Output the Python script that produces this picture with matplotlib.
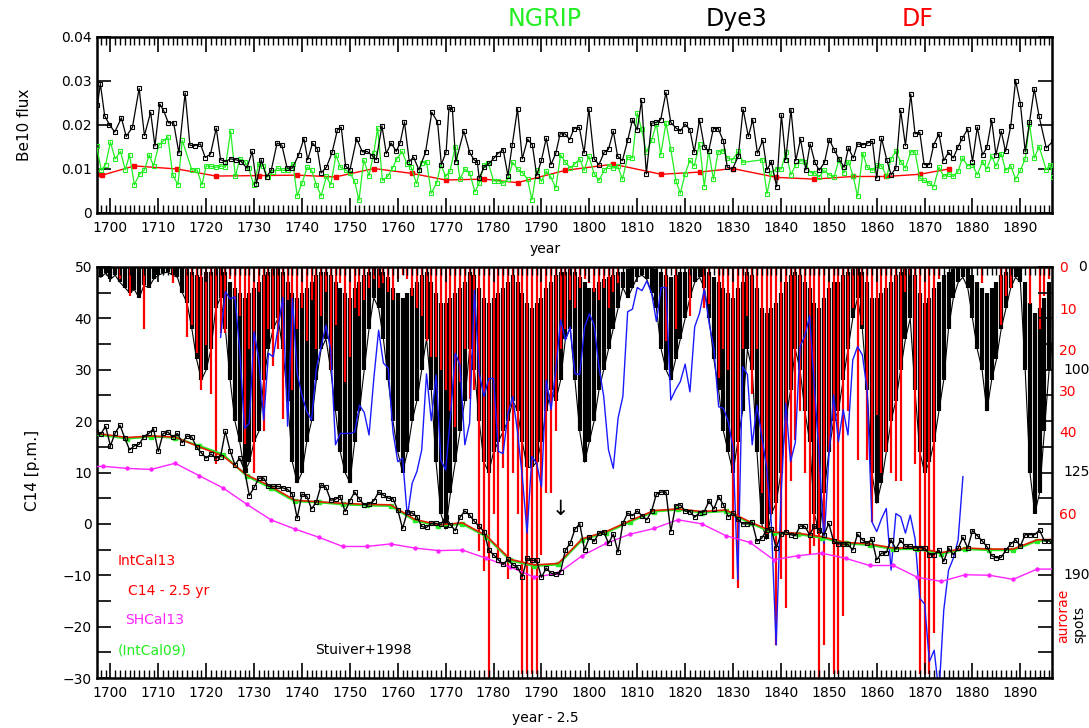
import matplotlib
matplotlib.use("Agg")
import matplotlib.pyplot as plt
import numpy as np
from matplotlib.ticker import FixedLocator, MultipleLocator

# ---- Be10 flux -------------------------------------------------------------
dye3_year = [1697.3, 1697.9, 1698.8, 1699.8, 1700.9, 1702.3, 1703.3, 1704.6, 1706.0, 1707.1,
             1708.4, 1709.3, 1710.3, 1711.1, 1712.1, 1713.2, 1714.3, 1715.6, 1716.6, 1717.6,
             1718.8, 1719.8, 1720.9, 1722.1, 1723.0, 1724.0, 1725.1, 1726.2, 1727.3, 1728.5,
             1729.6, 1730.5, 1731.5, 1732.6, 1733.6, 1734.8, 1735.8, 1736.9, 1738.0, 1739.3,
             1740.4, 1741.2, 1742.2, 1743.2, 1744.0, 1745.1, 1746.3, 1747.4, 1748.2, 1749.1,
             1750.0, 1751.4, 1752.6, 1753.6, 1754.7, 1755.5, 1756.7, 1757.6, 1758.6, 1759.7,
             1760.5, 1761.4, 1762.4, 1763.3, 1764.4, 1765.8, 1767.1, 1768.3, 1769.1, 1770.1,
             1770.7, 1771.4, 1772.1, 1773.8, 1775.0, 1775.9, 1776.6, 1777.0, 1778.0, 1779.1,
             1780.1, 1780.9, 1782.0, 1783.0, 1783.9, 1785.0, 1786.0, 1787.1, 1788.1, 1789.0,
             1790.0, 1791.0, 1792.0, 1793.0, 1793.9, 1794.9, 1795.9, 1796.8, 1797.9, 1798.9,
             1799.9, 1801.0, 1802.0, 1803.1, 1804.0, 1805.0, 1805.9, 1806.9, 1808.0, 1809.0,
             1810.0, 1810.9, 1811.9, 1813.0, 1814.0, 1814.9, 1816.0, 1817.0, 1818.1, 1819.0,
             1820.0, 1821.0, 1821.9, 1823.0, 1824.0, 1824.9, 1825.9, 1826.9, 1828.0, 1828.8,
             1829.9, 1831.1, 1832.1, 1833.2, 1834.1, 1835.1, 1836.2, 1837.1, 1838.0, 1839.1,
             1840.1, 1841.0, 1842.1, 1843.1, 1844.1, 1845.2, 1846.1, 1847.1, 1848.0, 1849.1,
             1850.1, 1851.1, 1852.1, 1853.2, 1854.1, 1855.1, 1856.0, 1857.1, 1858.1, 1859.1,
             1860.0, 1861.0, 1862.1, 1863.0, 1864.0, 1865.0, 1866.0, 1867.1, 1868.0, 1869.0,
             1869.9, 1871.0, 1871.9, 1873.0, 1874.0, 1875.0, 1876.0, 1877.0, 1877.9, 1879.0,
             1880.0, 1881.0, 1882.1, 1883.0, 1884.0, 1884.9, 1886.0, 1886.9, 1888.0, 1889.0,
             1890.0, 1891.0, 1891.9, 1892.9, 1893.9, 1895.4, 1896.9]
dye3_flux = [0.0246, 0.0294, 0.0221, 0.0201, 0.0184, 0.0216, 0.0174, 0.0195, 0.0283, 0.0176,
             0.0229, 0.0152, 0.0248, 0.0233, 0.0205, 0.0205, 0.0136, 0.0273, 0.0154, 0.0153,
             0.0157, 0.0126, 0.0134, 0.0193, 0.0121, 0.0117, 0.0123, 0.0121, 0.0117, 0.0102,
             0.0140, 0.0067, 0.0121, 0.0082, 0.0098, 0.0159, 0.0154, 0.0102, 0.0102, 0.0132,
             0.0169, 0.0121, 0.0159, 0.0146, 0.0091, 0.0104, 0.0138, 0.0189, 0.0195, 0.0107,
             0.0097, 0.0169, 0.0139, 0.0140, 0.0130, 0.0121, 0.0198, 0.0135, 0.0159, 0.0140,
             0.0160, 0.0207, 0.0117, 0.0127, 0.0098, 0.0138, 0.0229, 0.0207, 0.0110, 0.0139,
             0.0241, 0.0237, 0.0116, 0.0186, 0.0138, 0.0121, 0.0117, 0.0079, 0.0104, 0.0113,
             0.0125, 0.0135, 0.0144, 0.0085, 0.0155, 0.0237, 0.0123, 0.0168, 0.0155, 0.0085,
             0.0120, 0.0170, 0.0110, 0.0136, 0.0180, 0.0180, 0.0167, 0.0192, 0.0195, 0.0136,
             0.0237, 0.0123, 0.0110, 0.0138, 0.0145, 0.0186, 0.0129, 0.0119, 0.0165, 0.0212,
             0.0189, 0.0256, 0.0089, 0.0204, 0.0206, 0.0212, 0.0274, 0.0206, 0.0193, 0.0186,
             0.0202, 0.0189, 0.0138, 0.0212, 0.0151, 0.0140, 0.0192, 0.0192, 0.0163, 0.0104,
             0.0100, 0.0129, 0.0236, 0.0174, 0.0212, 0.0136, 0.0165, 0.0098, 0.0117, 0.0060,
             0.0223, 0.0121, 0.0235, 0.0119, 0.0168, 0.0098, 0.0157, 0.0115, 0.0097, 0.0115,
             0.0167, 0.0144, 0.0123, 0.0104, 0.0148, 0.0125, 0.0157, 0.0155, 0.0159, 0.0163,
             0.0079, 0.0170, 0.0121, 0.0087, 0.0102, 0.0233, 0.0153, 0.0270, 0.0180, 0.0183,
             0.0110, 0.0110, 0.0155, 0.0180, 0.0119, 0.0138, 0.0125, 0.0151, 0.0170, 0.0191,
             0.0117, 0.0195, 0.0132, 0.0149, 0.0211, 0.0132, 0.0186, 0.0140, 0.0198, 0.0301,
             0.0248, 0.0140, 0.0206, 0.0282, 0.0220, 0.0148, 0.0164]

ngrip_year = [1697.1, 1698.1, 1699.0, 1700.0, 1701.0, 1702.1, 1703.1, 1704.0, 1705.0, 1706.1,
              1707.1, 1708.1, 1709.0, 1710.1, 1711.0, 1712.0, 1713.0, 1714.1, 1715.0, 1717.0,
              1718.1, 1719.1, 1720.0, 1721.0, 1722.1, 1723.1, 1724.0, 1725.1, 1726.1, 1727.0,
              1728.0, 1728.9, 1729.9, 1731.0, 1731.9, 1732.8, 1733.9, 1734.9, 1736.0, 1737.0,
              1738.1, 1739.0, 1740.0, 1741.1, 1742.0, 1743.0, 1744.0, 1745.1, 1746.0, 1747.1,
              1748.0, 1749.1, 1750.0, 1751.0, 1751.9, 1752.9, 1754.0, 1755.0, 1755.8, 1756.8,
              1757.9, 1758.9, 1759.8, 1760.9, 1761.9, 1762.8, 1763.9, 1765.0, 1766.0, 1767.0,
              1768.1, 1769.0, 1770.0, 1770.9, 1772.0, 1773.0, 1774.0, 1775.0, 1776.1, 1777.0,
              1778.0, 1778.9, 1780.0, 1781.0, 1782.0, 1783.0, 1784.0, 1785.0, 1786.0, 1787.1,
              1788.0, 1789.0, 1790.0, 1791.0, 1791.9, 1793.0, 1794.0, 1794.9, 1796.0, 1797.0,
              1798.0, 1798.9, 1799.9, 1801.0, 1802.0, 1803.1, 1804.0, 1805.0, 1805.9, 1806.9,
              1808.0, 1809.0, 1810.0, 1810.9, 1811.9, 1813.0, 1814.0, 1814.9, 1816.0, 1817.0,
              1818.1, 1819.0, 1820.0, 1821.0, 1821.9, 1823.0, 1824.0, 1824.9, 1825.9, 1826.9,
              1828.0, 1828.8, 1829.9, 1831.1, 1832.1, 1836.1, 1837.1, 1838.0, 1839.1, 1840.1,
              1841.0, 1842.1, 1843.1, 1844.1, 1845.0, 1846.1, 1847.1, 1848.0, 1849.0, 1850.0,
              1851.1, 1852.1, 1853.1, 1854.1, 1855.1, 1856.0, 1857.1, 1858.0, 1859.1, 1860.0,
              1861.0, 1862.1, 1863.0, 1864.0, 1865.0, 1866.0, 1867.1, 1868.0, 1869.0, 1869.9,
              1871.0, 1871.9, 1873.0, 1874.0, 1875.0, 1876.0, 1877.0, 1877.9, 1879.0, 1880.0,
              1881.0, 1882.1, 1883.0, 1884.0, 1884.9, 1886.0, 1886.9, 1888.0, 1889.0, 1890.0,
              1891.0, 1891.9, 1892.9, 1893.9, 1895.4, 1896.2, 1896.9]
ngrip_flux = [0.0153, 0.0097, 0.0110, 0.0161, 0.0123, 0.0140, 0.0098, 0.0132, 0.0064, 0.0089,
              0.0098, 0.0132, 0.0107, 0.0154, 0.0163, 0.0173, 0.0087, 0.0064, 0.0165, 0.0098,
              0.0098, 0.0064, 0.0107, 0.0106, 0.0104, 0.0107, 0.0104, 0.0186, 0.0083, 0.0123,
              0.0117, 0.0102, 0.0064, 0.0112, 0.0107, 0.0082, 0.0093, 0.0102, 0.0097, 0.0097,
              0.0112, 0.0039, 0.0068, 0.0104, 0.0097, 0.0064, 0.0039, 0.0083, 0.0064, 0.0132,
              0.0104, 0.0098, 0.0091, 0.0072, 0.0029, 0.0120, 0.0085, 0.0137, 0.0193, 0.0074,
              0.0083, 0.0102, 0.0123, 0.0140, 0.0112, 0.0104, 0.0067, 0.0114, 0.0117, 0.0045,
              0.0068, 0.0110, 0.0083, 0.0095, 0.0151, 0.0077, 0.0100, 0.0092, 0.0048, 0.0068,
              0.0108, 0.0114, 0.0073, 0.0073, 0.0068, 0.0077, 0.0115, 0.0100, 0.0092, 0.0077,
              0.0030, 0.0097, 0.0072, 0.0095, 0.0083, 0.0057, 0.0132, 0.0117, 0.0102, 0.0112,
              0.0123, 0.0097, 0.0129, 0.0089, 0.0074, 0.0097, 0.0107, 0.0102, 0.0107, 0.0077,
              0.0127, 0.0125, 0.0227, 0.0191, 0.0138, 0.0165, 0.0203, 0.0132, 0.0205, 0.0145,
              0.0072, 0.0045, 0.0089, 0.0120, 0.0107, 0.0157, 0.0060, 0.0142, 0.0077, 0.0139,
              0.0142, 0.0125, 0.0121, 0.0140, 0.0115, 0.0121, 0.0044, 0.0092, 0.0101, 0.0100,
              0.0138, 0.0087, 0.0110, 0.0119, 0.0117, 0.0092, 0.0091, 0.0082, 0.0097, 0.0087,
              0.0082, 0.0121, 0.0091, 0.0117, 0.0083, 0.0038, 0.0135, 0.0104, 0.0097, 0.0108,
              0.0107, 0.0083, 0.0123, 0.0140, 0.0117, 0.0102, 0.0139, 0.0139, 0.0079, 0.0074,
              0.0068, 0.0060, 0.0104, 0.0083, 0.0089, 0.0083, 0.0095, 0.0125, 0.0107, 0.0110,
              0.0087, 0.0117, 0.0100, 0.0129, 0.0107, 0.0135, 0.0097, 0.0107, 0.0077, 0.0097,
              0.0123, 0.0203, 0.0125, 0.0151, 0.0098, 0.0110, 0.0081]

df_year = [1697.2, 1698.3, 1705.0, 1714.0, 1722.0, 1731.0, 1739.0, 1747.0, 1755.0, 1763.0,
           1770.0, 1778.0, 1785.0, 1795.0, 1805.0, 1815.0, 1823.0, 1830.0, 1839.0, 1847.0,
           1855.0, 1862.0, 1869.0, 1875.0]
df_flux = [0.0088, 0.0086, 0.0107, 0.0100, 0.0084, 0.0085, 0.0086, 0.0082, 0.0101, 0.0090,
           0.0075, 0.0077, 0.0069, 0.0097, 0.0111, 0.0088, 0.0093, 0.0101, 0.0081, 0.0077,
           0.0083, 0.0083, 0.0088, 0.0100]

# ---- C14 -------------------------------------------------------------------
stuiver_year = list(range(1697, 1898))
stuiver_c14 = [17.8, 17.5, 19.0, 15.2, 17.7, 19.2, 16.7, 14.4, 15.2, 15.5,
               17.0, 17.6, 18.5, 14.1, 17.6, 17.9, 16.9, 17.6, 15.8, 17.1,
               16.9, 14.9, 13.8, 12.8, 13.6, 12.8, 13.1, 18.0, 14.2, 11.5,
               12.8, 10.5, 5.5, 7.1, 8.9, 8.9, 7.3, 7.3, 7.3, 7.0,
               6.7, 5.8, 1.1, 5.8, 5.4, 2.9, 4.3, 7.6, 7.1, 4.6,
               4.8, 5.3, 2.4, 4.5, 6.2, 4.8, 3.7, 3.9, 4.5, 6.2,
               5.6, 5.0, 4.9, 2.7, -0.9, 2.4, 2.1, 1.4, -0.5, -0.7,
               0.1, 0.1, -0.1, 1.4, -0.2, -1.3, 1.3, 2.5, 1.7, 0.5,
               -0.5, -1.5, -5.1, -6.0, -7.0, -7.9, -6.9, -8.0, -8.4, -10.3,
               -6.7, -7.1, -7.1, -10.4, -8.6, -9.6, -9.8, -9.3, -5.1, -3.8,
               -1.0, 0.0, -5.1, -2.6, -3.4, -1.8, -1.5, -3.8, -2.0, -5.5,
               0.1, 2.1, 1.6, 2.5, 1.6, 0.8, 2.5, 5.8, 6.2, 6.2,
               -1.5, 3.5, 3.7, 2.5, 2.4, 1.3, 2.2, 2.4, 4.5, 2.9,
               5.3, 3.7, 1.4, 2.1, 0.9, 0.0, 0.0, 0.3, -3.4, -2.8,
               -1.2, -1.0, -4.7, -2.0, -1.5, -2.1, -2.3, -0.4, -0.5, -2.1,
               -0.4, -1.2, -2.1, 0.1, -3.4, -3.9, -3.9, -4.0, -5.1, -2.0,
               -3.1, -3.8, -3.0, -7.0, -5.7, -5.6, -3.1, -4.9, -3.2, -4.4,
               -4.4, -4.6, -4.6, -4.7, -6.0, -6.0, -5.1, -7.3, -4.7, -6.0,
               -4.7, -2.6, -4.7, -1.3, -2.3, -3.3, -4.4, -6.2, -6.6, -6.5,
               -5.1, -3.9, -3.1, -4.3, -2.1, -2.1, -2.1, -1.2, -3.3, -3.3,
               -4.2]

intcal_year = [1696.5, 1703.5, 1708.5, 1713.5, 1718.5, 1723.5, 1728.5, 1733.5, 1738.5, 1743.5,
               1748.5, 1753.5, 1758.5, 1763.5, 1768.5, 1773.5, 1778.5, 1783.5, 1788.5, 1793.5,
               1798.5, 1803.5, 1808.5, 1813.5, 1818.5, 1823.5, 1828.5, 1833.5, 1838.5, 1843.5,
               1848.5, 1853.5, 1858.5, 1863.5, 1868.5, 1873.5, 1878.5, 1883.5, 1888.5, 1893.5,
               1898.5]
intcal13 = [17.7, 16.8, 17.1, 16.9, 15.0, 13.2, 9.5, 7.3, 4.6, 4.3,
            4.0, 3.8, 3.7, 0.9, -0.2, 0.2, -2.3, -6.9, -8.0, -7.7,
            -2.9, -1.5, 0.6, 2.6, 2.9, 2.4, 2.7, 0.4, -1.6, -1.8,
            -2.5, -3.6, -3.9, -4.7, -4.7, -5.6, -4.7, -4.9, -4.9, -3.1,
            -3.0]
intcal09 = [17.5, 16.6, 17.0, 16.8, 15.2, 13.5, 9.3, 7.0, 4.4, 4.2,
            3.8, 3.6, 3.5, 0.7, -0.4, 0.0, -2.5, -7.1, -8.2, -7.9,
            -3.1, -1.7, 0.4, 2.4, 2.8, 2.2, 2.5, 0.2, -1.8, -2.0,
            -2.7, -3.8, -4.1, -4.9, -4.9, -5.8, -4.9, -5.1, -5.1, -3.3,
            -3.2]

shcal_year = [1693.5, 1698.5, 1703.5, 1708.5, 1713.5, 1718.5, 1723.5, 1728.5, 1733.5, 1738.5,
              1743.5, 1748.5, 1753.5, 1758.5, 1763.5, 1768.5, 1773.5, 1778.5, 1783.5, 1788.5,
              1793.5, 1798.5, 1803.5, 1808.5, 1813.5, 1818.5, 1823.5, 1828.5, 1833.5, 1838.5,
              1843.5, 1848.5, 1853.5, 1858.5, 1863.5, 1868.5, 1873.5, 1878.5, 1883.5, 1888.5,
              1893.5, 1898.5]
shcal13 = [11.0, 11.2, 10.8, 10.6, 11.8, 9.4, 7.0, 3.8, 0.8, -1.0,
           -2.6, -4.4, -4.4, -3.9, -4.7, -5.2, -5.1, -6.7, -8.4, -10.4,
           -9.6, -6.2, -3.8, -2.0, -0.9, 0.8, 0.0, -2.3, -3.6, -7.0,
           -6.2, -5.7, -6.7, -8.1, -8.1, -10.4, -11.2, -9.9, -10.0, -10.8,
           -8.8, -8.8]

# blue series, drawn on the C14 scale
blue_year = list(range(1723, 1879))
blue_val = [36.3, 45.2, 43.8, 44.2, 33.8, 18.6, 19.6, 37.4, 31.9, 20.2,
            33.2, 32.5, 38.1, 44.1, 19.0, 43.9, 29.3, 25.0, 21.9, 20.2,
            30.3, 34.5, 38.7, 33.8, 15.4, 17.6, 17.6, 17.6, 17.9, 23.1,
            21.7, 17.3, 28.3, 37.7, 31.3, 30.3, 17.9, 12.1, 12.8, 1.4,
            7.9, 10.2, 14.4, 29.2, 20.1, 29.0, 12.4, 10.5, 20.9, 33.2,
            30.9, 15.4, 19.6, 45.5, 29.3, 24.8, 28.3, 28.3, 14.1, 13.7,
            21.5, 24.8, 17.9, 9.2, -1.8, 13.1, 11.8, 7.2, 28.0, 22.2,
            30.0, 39.7, 35.8, 38.3, 29.2, 29.1, 38.3, 40.9, 38.7, 30.6,
            24.8, 14.4, 10.8, 20.6, 24.8, 41.3, 41.8, 46.0, 45.4, 47.3,
            44.9, 39.4, 46.0, 46.0, 24.1, 26.1, 27.7, 31.1, 25.7, 38.4,
            41.0, 45.7, 39.1, 34.2, 22.8, 22.5, 19.9, 14.7, -10.9, 30.6,
            29.1, 15.4, 23.1, 17.0, 11.1, 0.0, -23.6, 5.0, 23.5, 12.1,
            15.8, 34.5, 36.6, 40.5, 26.4, 13.1, -3.8, 13.0, 25.1, 16.0,
            22.2, 17.3, 31.9, 34.5, 32.9, 26.1, 0.4, -1.5, 1.0, 3.0,
            -9.0, 2.0, 1.4, -1.8, 1.7, -2.8, -14.5, -15.6, -26.8, -24.6,
            -33.0, -16.8, -9.0, -6.7, -3.1, 9.2]

# aurorae counts per year (right red scale, 0 at top)
aur_year = [1702, 1704, 1707, 1713, 1716, 1717, 1718, 1719, 1720, 1721,
            1722, 1723, 1724, 1725, 1726, 1727, 1728, 1729, 1730, 1731,
            1732, 1733, 1734, 1735, 1736, 1737, 1738, 1739, 1740, 1741,
            1742, 1743, 1744, 1745, 1746, 1747, 1748, 1749, 1750, 1751,
            1752, 1753, 1754, 1755, 1756, 1757, 1758, 1759, 1760, 1761,
            1762, 1763, 1764, 1765, 1766, 1767, 1768, 1769, 1770, 1771,
            1772, 1773, 1774, 1775, 1776, 1777, 1778, 1779, 1780, 1781,
            1782, 1783, 1784, 1785, 1786, 1787, 1788, 1789, 1790, 1791,
            1792, 1793, 1794, 1795, 1796, 1797, 1798, 1799, 1800, 1801,
            1802, 1803, 1804, 1805, 1806, 1816, 1818, 1821, 1824, 1825,
            1827, 1828, 1829, 1830, 1831, 1832, 1833, 1834, 1835, 1836,
            1837, 1838, 1839, 1840, 1841, 1842, 1843, 1844, 1845, 1846,
            1847, 1848, 1849, 1850, 1851, 1852, 1853, 1854, 1855, 1856,
            1857, 1858, 1859, 1860, 1861, 1862, 1863, 1864, 1865, 1866,
            1867, 1868, 1869, 1870, 1871, 1872, 1873, 1882, 1886, 1887,
            1888, 1892, 1894, 1895, 1896]
aur_count = [3, 7, 15, 4, 17, 14, 21, 30, 19, 31,
             48, 16, 16, 3, 8, 12, 43, 20, 50, 6,
             40, 15, 24, 20, 37, 8, 30, 15, 10, 18,
             8, 20, 12, 6, 25, 14, 4, 28, 22, 10,
             12, 8, 5, 3, 5, 4, 6, 8, 3, 2,
             3, 7, 10, 12, 18, 22, 22, 25, 30, 35,
             39, 28, 20, 32, 30, 69, 74, 100, 60, 71,
             49, 76, 50, 60, 99, 99, 99, 99, 70, 55,
             55, 40, 20, 15, 8, 10, 5, 3, 4, 6,
             8, 5, 10, 6, 4, 18, 15, 12, 10, 9,
             27, 20, 25, 76, 78, 20, 12, 31, 20, 55,
             65, 60, 92, 76, 83, 52, 42, 35, 50, 70,
             68, 100, 92, 45, 99, 99, 85, 35, 10, 47,
             14, 47, 62, 36, 50, 45, 50, 52, 52, 6,
             2, 48, 99, 99, 99, 89, 3, 4, 14, 7,
             5, 9, 15, 7, 3]

# sunspot band per year: shallow and deep edge on the spots scale (0 at top)
spot_year = list(range(1697, 1898))
spot_lo = [0, 0, 0, 0, 0, 0, 0, 0, 0, 0,
           0, 0, 0, 0, 0, 0, 0, 0, 0, 2,
           5, 8, 10, 5, 5, 2, 0, 5, 15, 20,
           25, 30, 25, 20, 15, 8, 5, 2, 0, 5,
           15, 25, 30, 25, 20, 15, 8, 5, 5, 8,
           15, 20, 25, 30, 20, 15, 8, 5, 0, 2,
           5, 10, 20, 25, 30, 25, 20, 15, 8, 5,
           15, 25, 35, 35, 30, 25, 20, 15, 5, 8,
           20, 30, 35, 30, 25, 20, 15, 8, 15, 25,
           35, 40, 35, 30, 20, 15, 8, 5, 5, 2,
           5, 10, 15, 20, 20, 15, 12, 10, 8, 5,
           5, 2, 0, 0, 0, 0, 0, 2, 5, 8,
           10, 8, 5, 5, 2, 0, 0, 0, 5, 10,
           15, 20, 25, 30, 20, 15, 5, 8, 20, 40,
           45, 40, 35, 25, 15, 8, 5, 8, 15, 20,
           35, 40, 30, 20, 15, 15, 8, 5, 2, 0,
           5, 15, 30, 30, 25, 20, 15, 8, 5, 2,
           2, 8, 25, 35, 30, 20, 15, 8, 5, 2,
           0, 0, 0, 8, 15, 20, 25, 20, 15, 8,
           5, 0, 0, 0, 15, 35, 45, 40, 30, 15,
           8]
spot_hi = [8, 10, 6, 12, 8, 15, 20, 25, 22, 30,
           18, 20, 12, 8, 6, 5, 8, 10, 25, 35,
           60, 90, 110, 100, 80, 40, 30, 60, 110, 150,
           170, 200, 190, 170, 160, 110, 80, 60, 50, 80,
           130, 190, 210, 200, 170, 150, 110, 80, 70, 100,
           140, 180, 200, 210, 170, 140, 100, 60, 30, 40,
           70, 110, 150, 180, 200, 180, 150, 130, 100, 70,
           120, 190, 240, 255, 220, 190, 160, 130, 80, 100,
           150, 190, 200, 180, 170, 160, 150, 130, 140, 170,
           195, 195, 190, 170, 140, 120, 130, 110, 70, 60,
           110, 160, 190, 170, 150, 120, 100, 80, 60, 40,
           20, 30, 20, 10, 8, 12, 25, 40, 80, 100,
           110, 90, 70, 50, 30, 15, 10, 20, 50, 90,
           120, 160, 180, 200, 170, 140, 80, 100, 180, 250,
           265, 240, 230, 200, 150, 120, 80, 100, 140, 170,
           240, 260, 220, 180, 150, 140, 110, 80, 50, 30,
           60, 120, 200, 230, 210, 180, 150, 130, 100, 70,
           50, 120, 180, 200, 190, 170, 140, 110, 60, 30,
           15, 10, 20, 50, 80, 100, 140, 110, 90, 60,
           40, 20, 10, 15, 100, 200, 240, 220, 160, 100,
           60]

aur_ticks = [0, 10, 20, 30, 40, 60]
spot_tick_pos = [0, 100, 200, 300]
spot_tick_labels = ["0", "100", "125", "190"]

RED = "#ff0000"
GREEN = "#22ee22"
MAGENTA = "#ff22ff"
BLUE = "#1a1aff"
FS = 10

plt.rcParams["font.family"] = "DejaVu Sans"
fig = plt.figure(figsize=(10.89, 7.28), dpi=100)

X0, X1 = 1697.2, 1896.6
left, width = 97 / 1089, 955 / 1089


def style_year_axis(ax):
    ax.set_xlim(X0, X1)
    ax.xaxis.set_major_locator(MultipleLocator(10))
    ax.xaxis.set_minor_locator(MultipleLocator(1))
    ax.tick_params(axis="x", which="major", direction="in", length=11, width=1.2,
                   top=True, bottom=True, labelsize=FS, pad=6)
    ax.tick_params(axis="x", which="minor", direction="in", length=6, width=1.0,
                   top=True, bottom=True)
    ax.tick_params(axis="y", which="both", direction="in", length=10, width=1.2,
                   left=True, right=True, labelsize=FS)
    for sp in ax.spines.values():
        sp.set_linewidth(1.8)


# ---- top panel: Be10 ------------------------------------------------------
ax_be = fig.add_axes([left, 1 - 213 / 728, width, 176 / 728])
style_year_axis(ax_be)
ax_be.set_ylim(0, 0.04)
ax_be.yaxis.set_major_locator(FixedLocator([0, 0.01, 0.02, 0.03, 0.04]))
ax_be.set_yticklabels(["0", "0.01", "0.02", "0.03", "0.04"])
ax_be.plot(df_year, df_flux, color=RED, lw=1.0, marker="s", ms=2.2, mec=RED, mfc=RED, zorder=2)
ax_be.plot(ngrip_year, ngrip_flux, color=GREEN, lw=0.9, marker="s", ms=2.6, mfc="none",
           mec=GREEN, mew=0.8, zorder=3)
ax_be.plot(dye3_year, dye3_flux, color="black", lw=0.9, marker="s", ms=2.6, mfc="none",
           mec="black", mew=0.8, zorder=4)

fig.text(545 / 1089, 1 - 19 / 728, "NGRIP", color=GREEN, fontsize=17, ha="center", va="center")
fig.text(737 / 1089, 1 - 19 / 728, "Dye3", color="black", fontsize=17, ha="center", va="center")
fig.text(918 / 1089, 1 - 19 / 728, "DF", color=RED, fontsize=17, ha="center", va="center")
fig.text(25 / 1089, 1 - 125 / 728, "Be10 flux", rotation=90, fontsize=11, ha="center", va="center")
fig.text(545 / 1089, 1 - 249 / 728, "year", fontsize=FS, ha="center", va="center")

# ---- bottom panel: C14, aurorae, sunspots --------------------------------
ax_c = fig.add_axes([left, 1 - 678 / 728, width, 411 / 728])
ax_spot = ax_c.twinx()
ax_aur = ax_c.twinx()

ax_spot.set_ylim(400, 0)
ax_spot.vlines(spot_year, spot_lo, spot_hi, color="black", lw=3.0)
ax_spot.plot(spot_year, spot_hi, color="black", lw=0.8)
ax_spot.set_yticks([])
ax_spot.set_xlim(X0, X1)

ax_aur.set_ylim(100, 0)
ax_aur.vlines(aur_year, 0, aur_count, color=RED, lw=1.6)
ax_aur.set_xlim(X0, X1)
ax_aur.yaxis.set_major_locator(FixedLocator(aur_ticks))
ax_aur.tick_params(axis="y", length=0, labelcolor=RED, labelsize=FS, pad=5)

for a in (ax_spot, ax_aur):
    for sp in a.spines.values():
        sp.set_visible(False)

ax_c.set_zorder(ax_aur.get_zorder() + 1)
ax_c.patch.set_visible(False)
style_year_axis(ax_c)
ax_c.set_ylim(-30, 50)
ax_c.yaxis.set_major_locator(MultipleLocator(10))
ax_c.yaxis.set_minor_locator(MultipleLocator(5))
ax_c.tick_params(axis="y", which="minor", direction="in", length=10, width=1.2,
                 left=True, right=True)

ax_c.plot(blue_year, blue_val, color=BLUE, lw=1.0, zorder=2)
ax_c.plot(shcal_year, shcal13, color=MAGENTA, lw=1.0, marker="o", ms=2.2, zorder=3)
ax_c.plot(intcal_year, intcal09, color=GREEN, lw=1.6, marker="s", ms=2.2, zorder=3)
ax_c.plot(intcal_year, intcal13, color="#e02000", lw=1.2, zorder=4)
ax_c.plot(stuiver_year, stuiver_c14, color="black", lw=1.0, marker="s", ms=2.8, mfc="none",
          mew=0.8, zorder=5)

# black "spots" labels beside the red aurorae ones
for pos, lab in zip(spot_tick_pos, spot_tick_labels):
    ax_c.annotate(lab, xy=(1.0, 1 - pos / 400), xycoords="axes fraction",
                  xytext=(19 if lab == "0" else 8.5, 0), textcoords="offset points",
                  fontsize=FS, ha="left", va="center")

fig.text(32 / 1089, 1 - 470 / 728, "C14 [p.m.]", rotation=90, fontsize=11, ha="center", va="center")
fig.text(545 / 1089, 1 - 718 / 728, "year - 2.5", fontsize=FS, ha="center", va="center")
fig.text(1063 / 1089, 1 - 643 / 728, "aurorae", color=RED, rotation=90, fontsize=FS,
         ha="center", va="bottom")
fig.text(1079 / 1089, 1 - 643 / 728, "spots", color="black", rotation=90, fontsize=FS,
         ha="center", va="bottom")

fig.text(118 / 1089, 1 - 561 / 728, "IntCal13", color=RED, fontsize=FS, va="center")
fig.text(128 / 1089, 1 - 591 / 728, "C14 - 2.5 yr", color=RED, fontsize=FS, va="center")
fig.text(125 / 1089, 1 - 620 / 728, "SHCal13", color=MAGENTA, fontsize=FS, va="center")
fig.text(118 / 1089, 1 - 650 / 728, "(IntCal09)", color=GREEN, fontsize=FS, va="center")
fig.text(315 / 1089, 1 - 650 / 728, "Stuiver+1998", color="black", fontsize=FS, va="center")
fig.text(560 / 1089, 1 - 509 / 728, "\u2193", color="black", fontsize=15, ha="center", va="center")

fig.savefig("out.png", dpi=100)
